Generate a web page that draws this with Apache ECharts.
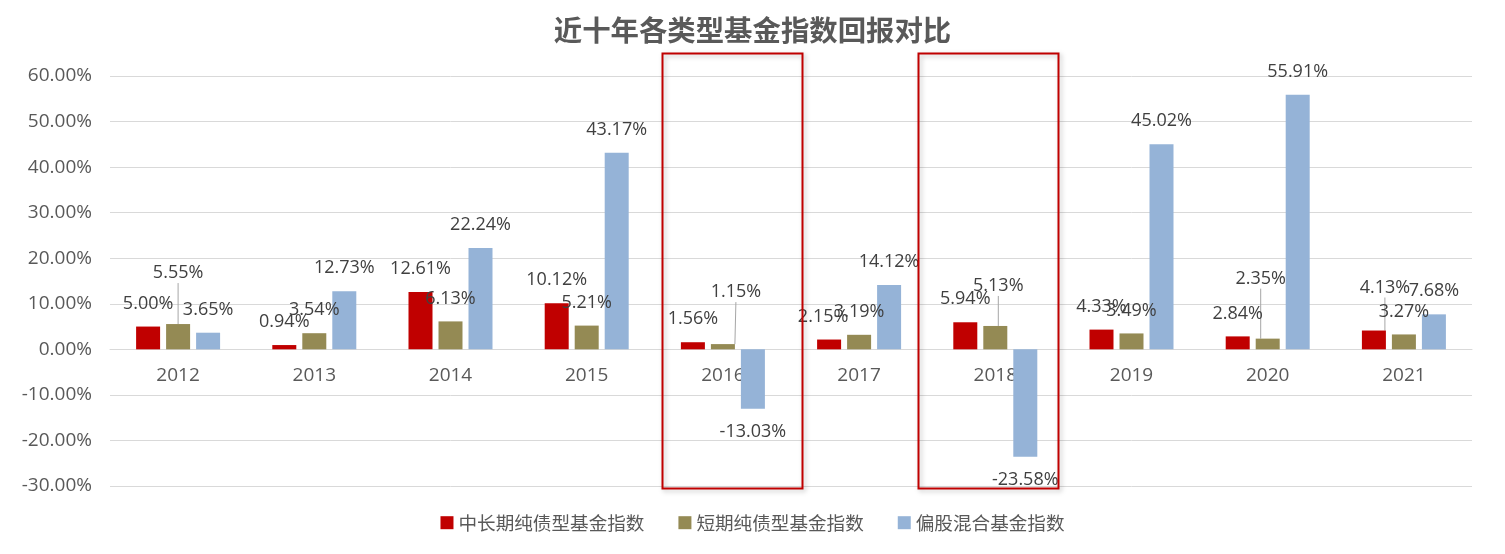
<!DOCTYPE html>
<html><head><meta charset="utf-8">
<script src="https://cdn.jsdelivr.net/npm/echarts@6/dist/echarts.min.js"></script>
<style>html,body{margin:0;padding:0;background:#fff}#c{width:1505px;height:554px}</style>
</head><body><div id="c"></div>
<script>
const titleText = '近十年各类型基金指数回报对比';
const categories = ['2012','2013','2014','2015','2016','2017','2018','2019','2020','2021'];
const seriesNames = ['中长期纯债型基金指数','短期纯债型基金指数','偏股混合基金指数'];
const midLongBond = [5.00, 0.94, 12.61, 10.12, 1.56, 2.15, 5.94, 4.33, 2.84, 4.13];
const shortBond   = [5.55, 3.54, 6.13, 5.21, 1.15, 3.19, 5.13, 3.49, 2.35, 3.27];
const equityMixed = [3.65, 12.73, 22.24, 43.17, -13.03, 14.12, -23.58, 45.02, 55.91, 7.68];
const yMin = -30, yMax = 60, yInterval = 10;
const highlightedYears = ['2016', '2018'];

const colors = ['#C00000', '#948A54', '#95B3D7'];
const textColor = '#595959';
const labelColor = '#404040';
const gridColor = '#D9D9D9';
const latinFont = '"Open Sans", "Noto Sans CJK SC", sans-serif';
const cjkFont = '"Noto Sans CJK SC", sans-serif';

// manual label nudges (seriesIndex-dataIndex -> [dx, dy])
const labelNudges = {
  '1-0': [0, -28],
  '1-4': [13, -29],
  '1-6': [3, -17],
  '1-8': [-7, -37],
  '0-9': [11, -20]
};
const nudgeOnly = { '0-5': [-6, 0] };
// horizontal shift of highlight boxes, as fraction of category band
const boxShift = { '2016': 0.065, '2018': -0.055 };

const allValues = [midLongBond, shortBond, equityMixed];

const chart = echarts.init(document.getElementById('c'), null, { renderer: 'canvas' });

function buildData(arr, si) {
  return arr.map((v, i) => {
    const item = { value: v };
    if (v < 0) item.label = { position: 'bottom' };
    if (labelNudges[si + '-' + i]) item.labelLine = { show: true };
    return item;
  });
}

const series = allValues.map((arr, si) => ({
  name: seriesNames[si],
  type: 'bar',
  data: buildData(arr, si),
  barWidth: 24,
  barGap: '25%',
  itemStyle: { color: colors[si] },
  label: {
    show: true,
    position: 'top',
    distance: 13,
    fontSize: 18,
    lineHeight: 20,
    color: labelColor,
    fontFamily: latinFont,
    formatter: p => p.value.toFixed(2) + '%'
  },
  labelLine: { show: false, lineStyle: { color: '#A6A6A6', width: 1 } },
  labelLayout: p => {
    const k = p.seriesIndex + '-' + p.dataIndex;
    const n = labelNudges[k] || nudgeOnly[k];
    return n ? { dx: n[0], dy: n[1] } : {};
  }
}));

const gridCfg = { left: 110, right: 33, top: 76, bottom: 68, containLabel: false };

chart.setOption({
  animation: false,
  backgroundColor: '#ffffff',
  title: {
    text: titleText,
    left: 'center',
    top: 11,
    textStyle: { fontSize: 28.4, fontWeight: 'bold', color: textColor, fontFamily: cjkFont }
  },
  legend: {
    bottom: 17,
    left: 'center',
    icon: 'rect',
    itemWidth: 13,
    itemHeight: 13,
    itemGap: 34,
    textStyle: { fontSize: 18.6, color: textColor, fontFamily: cjkFont },
    data: seriesNames
  },
  grid: gridCfg,
  xAxis: {
    type: 'category',
    data: categories,
    axisLine: { onZero: false, lineStyle: { color: gridColor, width: 1 } },
    axisTick: { show: false },
    axisLabel: { fontSize: 19, color: textColor, fontFamily: latinFont, margin: 17 }
  },
  yAxis: {
    type: 'value',
    min: yMin,
    max: yMax,
    interval: yInterval,
    axisLine: { show: false },
    axisTick: { show: false },
    splitLine: { lineStyle: { color: gridColor, width: 1 } },
    axisLabel: {
      fontSize: 19, color: textColor, fontFamily: latinFont, margin: 18,
      formatter: v => v.toFixed(2) + '%'
    }
  },
  series: series
});

// move the category axis onto the zero line (derived from the value axis)
const zeroY = chart.convertToPixel({ yAxisIndex: 0 }, 0);
const bottomY = chart.convertToPixel({ yAxisIndex: 0 }, yMin);
chart.setOption({ xAxis: { offset: -(bottomY - zeroY) } });

// highlight boxes derived from axes
const c0 = chart.convertToPixel({ xAxisIndex: 0 }, categories[0]);
const c1 = chart.convertToPixel({ xAxisIndex: 0 }, categories[1]);
const band = c1 - c0;
const yTop = chart.convertToPixel({ yAxisIndex: 0 }, yMax + 5.05);
const yBot = chart.convertToPixel({ yAxisIndex: 0 }, yMin - 0.4);
const boxes = highlightedYears.map(y => {
  const cx = chart.convertToPixel({ xAxisIndex: 0 }, y) + band * (boxShift[y] || 0);
  const w = band * 1.025;
  return {
    type: 'rect',
    z: 100,
    shape: { x: Math.round(cx - w / 2) + 0.5, y: Math.round(yTop) + 0.5, width: Math.round(w), height: Math.round(yBot - yTop) },
    style: {
      fill: 'none', stroke: '#C00000', lineWidth: 2,
      shadowBlur: 5, shadowColor: 'rgba(0,0,0,0.25)', shadowOffsetX: 2, shadowOffsetY: 2
    }
  };
});
chart.setOption({ graphic: boxes });
</script>
</body></html>
